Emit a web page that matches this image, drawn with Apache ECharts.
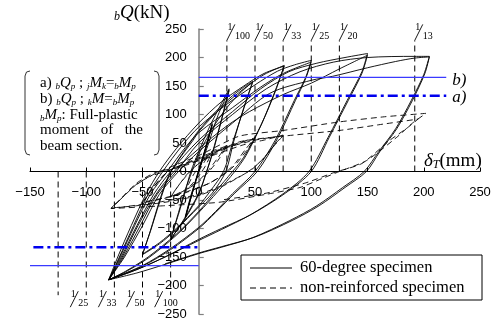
<!DOCTYPE html>
<html>
<head>
<meta charset="utf-8">
<script src="https://cdn.jsdelivr.net/npm/echarts@6/dist/echarts.min.js"></script>
<style>
html, body { margin: 0; padding: 0; background: #fff; }
#chart { width: 496px; height: 325px; }
</style>
</head>
<body>
<div id="chart"></div>
<script>
// axis ranges (mm, kN)
var xRange = [-150, 250];
var yRange = [-250, 250];
var tickStep = 50;

// full-plastic shear levels a) and b)
var qpA = 133;
var qpB = 165;
var qpEnd = 220;
var qpStartB = -150;
var qpStartA = -147;

// drift angle lines: position (mm) and denominator of 1/n
var driftTop = [25, 50, 75, 100, 125, 192];
var driftTopDen = ['100', '50', '33', '25', '20', '13'];
var driftTopEnd = 230;
var driftBottom = [-25, -50, -75, -100, -125];
var driftBottomDen = ['100', '50', '33', '25', ''];
var driftBottomEnd = -217;

// 60-degree specimen
var spec60 = [
    [0, 0], [6, 40], [12, 82], [7, 45], [0, 2], [-6, -40], [-12, -80], [-7, -42], [0, 0], [6, 42], [12, 84], [7, 46], [0, 3], [-6, -38], [-12, -82], [-6, -40], [0, 0],
    [8, 45], [17, 98], [27, 142],
    [20, 88], [12, 30], [7, 0], [0, -40], [-12, -82], [-25, -118],
    [-18, -75], [-12, -35], [-7, 0], [0, 35], [10, 80], [19, 115], [27, 145],
    [20, 90], [12, 32], [7, 0], [0, -38], [-12, -80], [-25, -120],
    [-18, -72], [-12, -32], [-6, 0], [0, 30], [12, 75], [25, 112], [38, 140], [48, 157],
    [40, 110], [30, 50], [22, 0], [10, -35], [0, -60], [-20, -100], [-35, -125], [-50, -145],
    [-43, -105], [-35, -55], [-27, -10], [-20, 15], [-8, 50], [0, 72], [15, 105], [30, 133], [40, 148], [48, 158],
    [40, 112], [31, 52], [24, 0], [12, -38], [0, -62], [-20, -102], [-35, -127], [-50, -146],
    [-43, -104], [-35, -52], [-27, -8], [-18, 20], [-5, 55], [0, 70], [20, 112], [40, 145], [58, 170], [76, 186],
    [68, 140], [55, 80], [40, 25], [30, 0], [15, -35], [0, -70], [-20, -110], [-45, -150], [-65, -175], [-80, -190],
    [-72, -150], [-60, -95], [-47, -40], [-35, 0], [-20, 40], [0, 85], [20, 122], [40, 150], [58, 172], [76, 185],
    [68, 142], [56, 84], [42, 28], [32, 0], [17, -35], [0, -72], [-20, -112], [-45, -152], [-65, -176], [-80, -190],
    [-71, -152], [-58, -95], [-45, -40], [-32, 0], [-15, 45], [0, 78], [25, 118], [50, 152], [70, 176], [85, 187], [100, 195],
    [95, 165], [85, 125], [68, 55], [50, 0], [30, -39], [15, -70], [0, -98], [-25, -135], [-50, -165], [-80, -190],
    [-70, -150], [-57, -95], [-43, -40], [-28, 0], [-12, 42], [0, 68], [30, 112], [55, 148], [75, 172], [100, 192],
    [95, 163], [86, 125], [70, 58], [52, 0], [32, -38], [15, -72], [0, -100], [-25, -137], [-50, -166], [-80, -190],
    [-69, -150], [-55, -95], [-40, -40], [-25, 0], [0, 55], [30, 105], [55, 145], [80, 175], [105, 190], [130, 200], [150, 207],
    [145, 175], [132, 125], [115, 60], [98, 0], [75, -39], [45, -77], [20, -102], [0, -121], [-30, -150], [-55, -172], [-80, -190],
    [-68, -150], [-54, -95], [-38, -40], [-22, 0], [0, 40], [25, 80], [45, 105], [75, 135], [100, 155], [125, 180], [150, 204],
    [145, 172], [133, 125], [116, 60], [100, 0], [77, -38], [47, -75], [20, -100], [0, -119], [-30, -150], [-55, -172], [-80, -190],
    [-67, -150], [-52, -95], [-37, -40], [-20, 0], [0, 50], [30, 100], [60, 145], [90, 175], [120, 192], [150, 200], [192, 202], [205, 202],
    [200, 170], [189, 125], [175, 75], [160, 35], [147, 0], [128, -28], [105, -60], [81, -86], [48, -116], [20, -133], [0, -144], [-30, -163], [-55, -178], [-80, -190],
    [-66, -150], [-50, -95], [-35, -40], [-18, 0], [0, 35], [30, 85], [63, 137], [100, 160], [119, 167], [150, 182], [175, 193], [192, 199], [205, 201],
    [201, 172], [190, 125], [176, 75], [161, 35], [149, 0], [130, -28], [107, -60], [83, -86], [50, -115], [20, -132], [0, -143], [-30, -162]
];

// non-reinforced specimen
var nonReinforced = [
    [0, 0], [6, 20], [12, 35], [6, 10], [0, -8], [-6, -22], [-12, -35], [-6, -10], [0, 8], [6, 22], [12, 36],
    [18, 40], [25, 45], [18, 22], [10, 2], [0, -18], [-12, -33], [-25, -44],
    [-17, -22], [-10, -4], [0, 14], [12, 30], [25, 46],
    [17, 24], [9, 3], [0, -16], [-12, -32], [-25, -45],
    [-17, -22], [-9, -3], [0, 14], [15, 32], [30, 45], [40, 52], [50, 57],
    [43, 38], [34, 15], [26, 0], [10, -20], [-10, -35], [-30, -46], [-50, -54],
    [-42, -32], [-33, -10], [-25, 3], [-5, 20], [15, 36], [35, 50], [50, 59],
    [42, 40], [33, 16], [25, 0], [10, -20], [-10, -36], [-30, -47], [-50, -55],
    [-42, -33], [-33, -10], [-25, 3], [0, 22], [25, 42], [50, 55], [75, 63],
    [67, 45], [57, 22], [48, 5], [40, -5], [20, -25], [0, -40], [-30, -52], [-55, -59], [-78, -65],
    [-70, -50], [-60, -30], [-45, -10], [-30, 0], [-10, 12], [15, 30], [40, 47], [60, 56], [75, 64],
    [67, 46], [58, 24], [49, 7], [40, -5], [20, -27], [0, -42], [-30, -54], [-55, -60], [-78, -64],
    [-68, -46], [-55, -22], [-40, -5], [-25, 8], [0, 28], [36, 62], [75, 72], [125, 87], [165, 96], [202, 102],
    [190, 85], [176, 60], [149, 19], [125, 0], [110, -12], [90, -28], [60, -40], [18, -54], [-30, -60], [-78, -65],
    [-68, -45], [-55, -20], [-40, -3], [-25, 5], [0, 20], [36, 52], [75, 62], [125, 72], [160, 82], [195, 92],
    [185, 76], [170, 55], [145, 14], [120, -2], [95, -20], [60, -38], [20, -50]
];

var serif = '"Liberation Serif", "Times New Roman", serif';
var sans = '"Liberation Sans", Arial, sans-serif';

// plot box
var W = 496, H = 325;
var gridLeft = 30, gridRight = 16, gridTop = 29, gridBottom = 11;
var gridW = W - gridLeft - gridRight;
var gridH = H - gridTop - gridBottom;
// shift the axes so that they cross at the origin
var xAxisShift = -gridH * (0 - yRange[0]) / (yRange[1] - yRange[0]);
var yAxisShift = -gridW * (0 - xRange[0]) / (xRange[1] - xRange[0]);

function minus(v) {
    return v < 0 ? '\u2212' + (-v) : String(v);
}

function richSet(size) {
    return {
        n: {fontFamily: serif, fontSize: size, lineHeight: size + 1, color: '#000'},
        i: {fontFamily: serif, fontSize: size, fontStyle: 'italic', lineHeight: size + 1, color: '#000'},
        s: {fontFamily: serif, fontSize: Math.round(size * 0.62), fontStyle: 'italic', lineHeight: 6, verticalAlign: 'bottom', color: '#000'}
    };
}

function driftRender(dens, top) {
    return function (params, api) {
        var x = api.value(0);
        var p0 = api.coord([x, 0]);
        var p1 = api.coord([x, api.value(1)]);
        var L = p1[0], T = p1[1];
        var kids = [{
            type: 'line',
            shape: {x1: L, y1: p0[1], x2: L, y2: T},
            style: {stroke: '#000', lineWidth: 1, lineDash: [6, 4]}
        }];
        var den = dens[params.dataIndex];
        if (den) {
            var sx = top ? L : L - 16;
            var sy = top ? T : T + 12;
            kids.push({
                type: 'line',
                shape: {x1: sx, y1: sy, x2: sx + 8, y2: sy - 16},
                style: {stroke: '#000', lineWidth: 0.9}
            });
            kids.push({
                type: 'text',
                style: {text: '1', x: sx + 3, y: sy - 13, align: 'center', verticalAlign: 'middle',
                    font: '10px ' + serif, fill: '#000'}
            });
            kids.push({
                type: 'text',
                style: {text: den, x: sx + 8, y: sy - 4, align: 'left', verticalAlign: 'middle',
                    font: '10px ' + serif, fill: '#000'}
            });
        }
        return {type: 'group', children: kids};
    };
}

var chart = echarts.init(document.getElementById('chart'), null, {renderer: 'canvas'});

var option = {
    animation: false,
    backgroundColor: '#fff',
    grid: {left: gridLeft, right: gridRight, top: gridTop, bottom: gridBottom,
        containLabel: false, outerBoundsMode: 'none'},
    xAxis: {
        type: 'value', min: xRange[0], max: xRange[1], interval: tickStep,
        position: 'bottom', offset: xAxisShift,
        axisLine: {onZero: false, lineStyle: {color: '#000', width: 1}},
        axisTick: {inside: true, length: 4, lineStyle: {color: '#000'}},
        axisLabel: {margin: 14, color: '#000', fontFamily: sans, fontSize: 13, formatter: minus},
        splitLine: {show: false}
    },
    yAxis: {
        type: 'value', min: yRange[0], max: yRange[1], interval: tickStep,
        position: 'left', offset: yAxisShift,
        axisLine: {onZero: false, lineStyle: {color: '#808080', width: 1.5}},
        axisTick: {inside: true, length: 5, lineStyle: {color: '#808080', width: 1.2}},
        axisLabel: {margin: 12, color: '#000', fontFamily: sans, fontSize: 13, formatter: minus},
        splitLine: {show: false}
    },
    series: [
        {
            type: 'custom', coordinateSystem: 'cartesian2d', silent: true, z: 1,
            data: driftTop.map(function (x) { return [x, driftTopEnd]; }),
            encode: {x: 0, y: 1},
            renderItem: driftRender(driftTopDen, true)
        },
        {
            type: 'custom', coordinateSystem: 'cartesian2d', silent: true, z: 1,
            data: driftBottom.map(function (x) { return [x, driftBottomEnd]; }),
            encode: {x: 0, y: 1},
            renderItem: driftRender(driftBottomDen, false)
        },
        {
            name: 'non-reinforced specimen', type: 'line', data: nonReinforced,
            showSymbol: false, smooth: 0.2, silent: true, z: 2,
            lineStyle: {color: '#000', width: 0.9, type: [6, 4]}
        },
        {
            name: '60-degree specimen', type: 'line', data: spec60,
            showSymbol: false, smooth: 0.3, silent: true, z: 3,
            lineStyle: {color: '#000', width: 0.9}
        },
        {
            type: 'line', data: [[0, qpB], [qpEnd, qpB]], showSymbol: false, silent: true, z: 4,
            lineStyle: {color: '#3a3aff', width: 1.2},
            endLabel: {show: true, formatter: 'b)', distance: 6, offset: [0, 3],
                fontFamily: serif, fontStyle: 'italic', fontSize: 17, color: '#000'}
        },
        {
            type: 'line', data: [[0, qpA], [qpEnd, qpA]], showSymbol: false, silent: true, z: 4,
            lineStyle: {color: '#0000ee', width: 2.5, type: [10, 4, 3, 4]},
            endLabel: {show: true, formatter: 'a)', distance: 6, offset: [0, 2],
                fontFamily: serif, fontStyle: 'italic', fontSize: 17, color: '#000'}
        },
        {
            type: 'line', data: [[qpStartB, -qpB], [0, -qpB]], showSymbol: false, silent: true, z: 4,
            lineStyle: {color: '#3a3aff', width: 1.2}
        },
        {
            type: 'line', data: [[qpStartA, -qpA], [0, -qpA]], showSymbol: false, silent: true, z: 4,
            lineStyle: {color: '#0000ee', width: 2.5, type: [10, 4, 3, 4]}
        }
    ],
    graphic: [
        // axis titles
        {type: 'text', z: 10, style: {x: 114, y: 13, verticalAlign: 'middle',
            text: '{s|b}{i|Q}{n|(kN)}', rich: richSet(19)}},
        {type: 'text', z: 10, style: {x: 424, y: 161, verticalAlign: 'middle',
            text: '{i|\u03b4}{s|T}{n|(mm)}', rich: richSet(19)}},
        // note in brackets
        {type: 'polyline', z: 10, shape: {points: [[30, 71], [26.5, 72], [25, 76], [25, 150], [26.5, 154], [30, 155]]},
            style: {fill: 'none', stroke: '#333', lineWidth: 1}},
        {type: 'polyline', z: 10, shape: {points: [[154, 71], [157.5, 72], [159, 76], [159, 150], [157.5, 154], [154, 155]]},
            style: {fill: 'none', stroke: '#333', lineWidth: 1}},
        {type: 'text', z: 10, style: {x: 40, y: 83, verticalAlign: 'middle',
            text: '{n|a) }{s|b}{i|Q}{s|p}{n| ; }{s|j}{i|M}{s|k}{n|=}{s|b}{i|M}{s|p}', rich: richSet(15)}},
        {type: 'text', z: 10, style: {x: 40, y: 99, verticalAlign: 'middle',
            text: '{n|b) }{s|b}{i|Q}{s|p}{n| ; }{s|k}{i|M}{n|=}{s|b}{i|M}{s|p}', rich: richSet(15)}},
        {type: 'text', z: 10, style: {x: 40, y: 115, verticalAlign: 'middle',
            text: '{s|b}{i|M}{s|p}{n|: Full-plastic}', rich: richSet(15)}},
        {type: 'text', z: 10, style: {x: 40, y: 130, verticalAlign: 'middle',
            text: 'moment', font: '15px ' + serif, fill: '#000'}},
        {type: 'text', z: 10, style: {x: 107, y: 130, verticalAlign: 'middle', align: 'center',
            text: 'of', font: '15px ' + serif, fill: '#000'}},
        {type: 'text', z: 10, style: {x: 143, y: 130, verticalAlign: 'middle', align: 'right',
            text: 'the', font: '15px ' + serif, fill: '#000'}},
        {type: 'text', z: 10, style: {x: 40, y: 146, verticalAlign: 'middle',
            text: 'beam section.', font: '15px ' + serif, fill: '#000'}},
        // legend
        {type: 'rect', z: 10, shape: {x: 241, y: 255, width: 241, height: 45},
            style: {fill: '#fff', stroke: '#000', lineWidth: 1}},
        {type: 'line', z: 11, shape: {x1: 250, y1: 268, x2: 292, y2: 268},
            style: {stroke: '#000', lineWidth: 1}},
        {type: 'line', z: 11, shape: {x1: 250, y1: 288, x2: 292, y2: 288},
            style: {stroke: '#000', lineWidth: 1, lineDash: [6, 4]}},
        {type: 'text', z: 11, style: {x: 300, y: 268, verticalAlign: 'middle',
            text: '60-degree specimen', font: '16.5px ' + serif, fill: '#000'}},
        {type: 'text', z: 11, style: {x: 300, y: 288, verticalAlign: 'middle',
            text: 'non-reinforced specimen', font: '16.5px ' + serif, fill: '#000'}}
    ]
};

chart.setOption(option);
</script>
</body>
</html>
